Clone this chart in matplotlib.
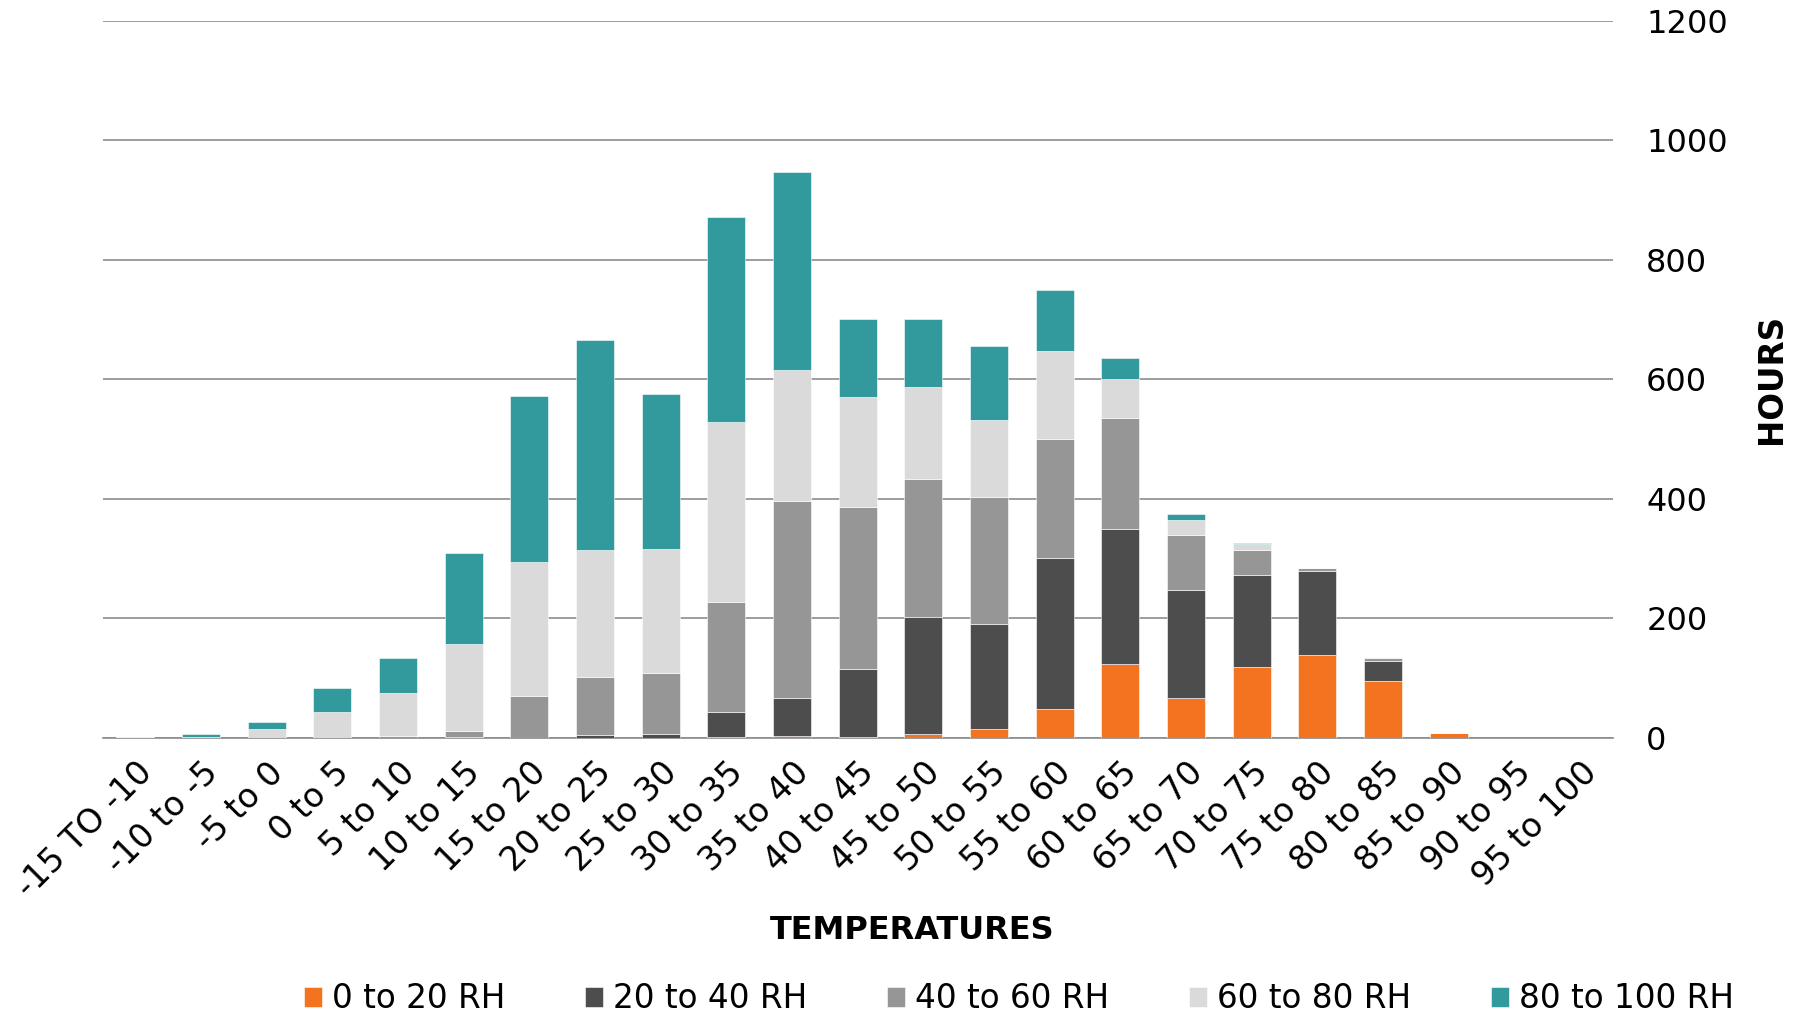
import matplotlib
matplotlib.use("Agg")
import matplotlib.pyplot as plt
import numpy as np

categories = ["-15 TO -10", "-10 to -5", "-5 to 0", "0 to 5", "5 to 10", "10 to 15",
              "15 to 20", "20 to 25", "25 to 30", "30 to 35", "35 to 40", "40 to 45",
              "45 to 50", "50 to 55", "55 to 60", "60 to 65", "65 to 70", "70 to 75",
              "75 to 80", "80 to 85", "85 to 90", "90 to 95", "95 to 100"]

rh_0_20   = [0, 0, 0, 0, 0, 0, 0, 0, 0, 2, 4, 2, 7, 15, 48, 123, 67, 118, 139, 96, 8, 0, 0]
rh_20_40  = [0, 0, 0, 0, 0, 1, 0, 5, 6, 42, 63, 113, 195, 175, 253, 227, 180, 154, 141, 33, 0, 0, 0]
rh_40_60  = [0, 1, 0, 0, 3, 10, 70, 97, 103, 183, 329, 271, 232, 213, 200, 185, 93, 43, 4, 5, 0, 0, 0]
rh_60_80  = [1, 0, 15, 43, 72, 146, 224, 213, 208, 301, 220, 184, 154, 129, 146, 66, 24, 9, 1, 1, 0, 0, 0]
rh_80_100 = [0, 5, 12, 41, 59, 153, 278, 351, 259, 344, 331, 131, 113, 123, 102, 35, 11, 2, 0, 0, 0, 0, 0]

series_names = ["0 to 20 RH", "20 to 40 RH", "40 to 60 RH", "60 to 80 RH", "80 to 100 RH"]
series = [rh_0_20, rh_20_40, rh_40_60, rh_60_80, rh_80_100]
colors = ["#F37321", "#4D4D4D", "#969696", "#DADADA", "#329A9D"]

plt.rcParams['font.family'] = ['DejaVu Sans']

fig = plt.figure(figsize=(18, 10.13), dpi=100)
ax = fig.add_axes([0.057, 0.2715, 0.839, 0.708])

x = np.arange(len(categories))
bottom = np.zeros(len(categories))
handles = []
for name, vals, c in zip(series_names, series, colors):
    v = np.array(vals, dtype=float)
    b = ax.bar(x, v, bottom=bottom, width=0.58, color=c, label=name,
               edgecolor='white', linewidth=0.4, zorder=3)
    handles.append(b)
    bottom += v

ax.set_xlim(-0.5, len(categories) - 0.5)
ax.set_ylim(0, 1200)
ax.set_yticks(np.arange(0, 1201, 200))
ax.yaxis.tick_right()
ax.tick_params(axis='y', length=0, pad=24, labelsize=23)
ax.yaxis.grid(True, color='#8C8C8C', linewidth=1.2, zorder=0)
ax.set_axisbelow(True)
for s in ['top', 'right', 'left']:
    ax.spines[s].set_visible(False)
ax.spines['bottom'].set_color('#8C8C8C')
ax.spines['bottom'].set_linewidth(1.2)

ax.set_xticks(x)
ax.set_xticklabels(categories, rotation=45, ha='right', rotation_mode='anchor', fontsize=24)
ax.tick_params(axis='x', length=0, pad=13)

fig.text(0.507, 0.081, "TEMPERATURES", ha='center', va='center', fontsize=23, fontweight='bold')
fig.text(0.984, 0.626, "HOURS", ha='center', va='center', fontsize=23.5, fontweight='bold', rotation=90)

fig.legend(handles=handles, labels=series_names, loc='center', bbox_to_anchor=(0.566, 0.014),
           ncol=5, frameon=False, fontsize=23.5, handlelength=0.55, handleheight=0.55,
           handletextpad=0.3, columnspacing=2.45)

fig.savefig("out.png", dpi=100)
